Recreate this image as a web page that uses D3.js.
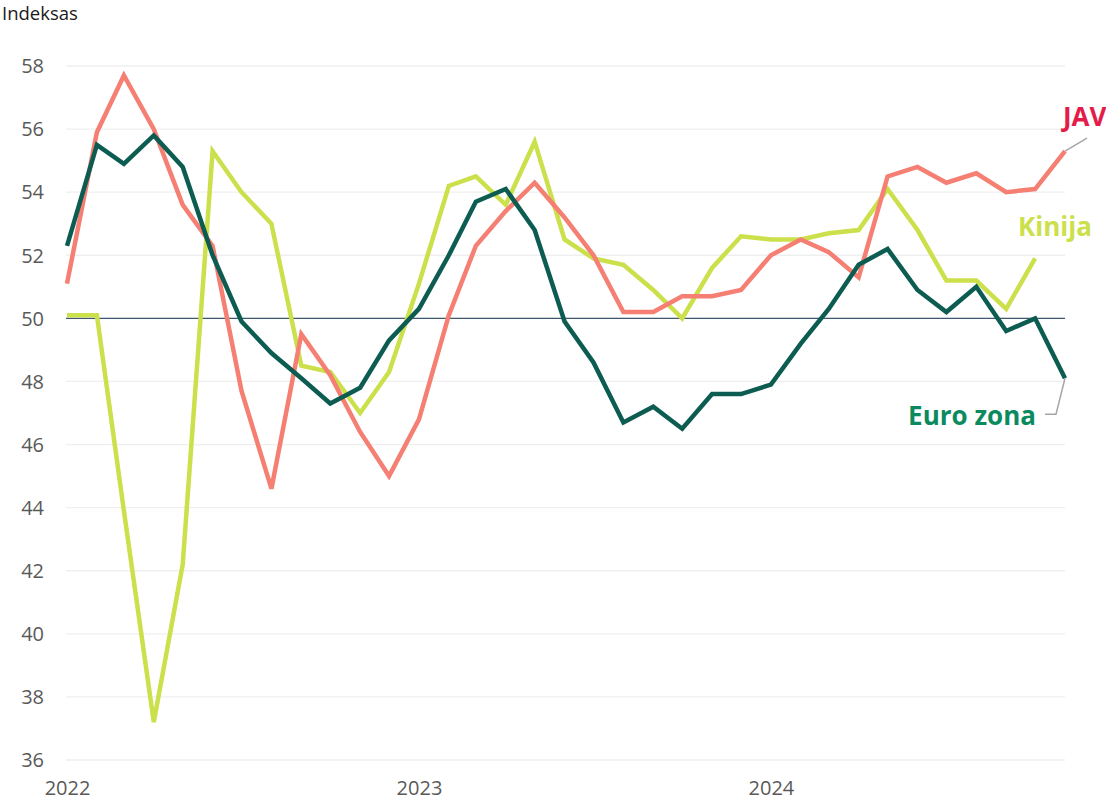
<!DOCTYPE html>
<html>
<head>
<meta charset="utf-8">
<script src="https://cdn.jsdelivr.net/npm/d3@7"></script>
<style>
  html, body { margin: 0; padding: 0; background: #fff; }
  svg { display: block; }
</style>
</head>
<body>
<svg id="chart" width="1106" height="808"></svg>
<script>
// Monthly data, Jan 2022 .. Nov 2024
const months = d3.range(35).map(i => new Date(2022, i, 1));
const jav = [51.1, 55.9, 57.7, 56.0, 53.6, 52.3, 47.7, 44.6, 49.5, 48.2, 46.4, 45.0,
             46.8, 50.1, 52.3, 53.4, 54.3, 53.2, 52.0, 50.2, 50.2, 50.7, 50.7, 50.9,
             52.0, 52.5, 52.1, 51.3, 54.5, 54.8, 54.3, 54.6, 54.0, 54.1, 55.3];
const euroZona = [52.3, 55.5, 54.9, 55.8, 54.8, 52.0, 49.9, 48.9, 48.1, 47.3, 47.8, 49.3,
                  50.3, 52.0, 53.7, 54.1, 52.8, 49.9, 48.6, 46.7, 47.2, 46.5, 47.6, 47.6,
                  47.9, 49.2, 50.3, 51.7, 52.2, 50.9, 50.2, 51.0, 49.6, 50.0, 48.1];
const kinija = [50.1, 50.1, 43.9, 37.2, 42.2, 55.3, 54.0, 53.0, 48.5, 48.3, 47.0, 48.3,
                51.1, 54.2, 54.5, 53.6, 55.6, 52.5, 51.9, 51.7, 50.9, 50.0, 51.6, 52.6,
                52.5, 52.5, 52.7, 52.8, 54.1, 52.8, 51.2, 51.2, 50.3, 51.9];
const yTicks = [36, 38, 40, 42, 44, 46, 48, 50, 52, 54, 56, 58];
const xTickLabels = ["2022", "2023", "2024"];
const xTickDates = [new Date(2022, 0, 1), new Date(2023, 0, 1), new Date(2024, 0, 1)];
const seriesNames = ["JAV", "Kinija", "Euro zona"];

const svg = d3.select("#chart");
const x = d3.scaleTime().domain([months[0], months[34]]).range([67, 1065]);
const y = d3.scaleLinear().domain([36, 58]).range([760, 66]);

const font = "'Open Sans', 'Noto Sans', sans-serif";

// gridlines
svg.append("g").selectAll("line").data(yTicks).join("line")
  .attr("x1", 66).attr("x2", 1065)
  .attr("y1", d => y(d)).attr("y2", d => y(d))
  .attr("stroke", "#efefef").attr("stroke-width", 1.3);

// y tick labels
const yAxis = d3.axisLeft(y).tickValues(yTicks).tickSize(0).tickPadding(0);
const gy = svg.append("g").attr("transform", "translate(44,0)").call(yAxis);
gy.select(".domain").remove();
gy.selectAll("text").attr("font-family", font).attr("font-size", 20)
  .attr("fill", "#595959").attr("text-anchor", "end").attr("dy", "0.34em");

// x tick labels
const xAxis = d3.axisBottom(x).tickValues(xTickDates).tickFormat((d, i) => xTickLabels[i]).tickSize(0).tickPadding(0);
const gx = svg.append("g").attr("transform", "translate(0,781)").call(xAxis);
gx.select(".domain").remove();
gx.selectAll("text").attr("font-family", font).attr("font-size", 20)
  .attr("fill", "#595959").attr("dy", "0.71em");

// axis title
svg.append("text").attr("x", 2).attr("y", 20).text("Indeksas")
  .attr("font-family", font).attr("font-size", 18.5).attr("fill", "#1a1a1a");

// 50 reference line
svg.append("line").attr("x1", 66).attr("x2", 1065)
  .attr("y1", y(50)).attr("y2", y(50))
  .attr("stroke", "#3d5870").attr("stroke-width", 1.3);

const line = d3.line().x((d, i) => x(months[i])).y(d => y(d));

function drawSeries(data, color) {
  svg.append("path").datum(data).attr("d", line)
    .attr("fill", "none").attr("stroke", color).attr("stroke-width", 4.5)
    .attr("stroke-linejoin", "miter").attr("stroke-linecap", "butt");
}
drawSeries(kinija, "#cbe04a");
drawSeries(jav, "#f47f72");
drawSeries(euroZona, "#0c5c52");

// leader lines
const lastJ = jav.length - 1, lastE = euroZona.length - 1;
svg.append("path")
  .attr("d", `M${x(months[lastJ])},${y(jav[lastJ])} L${x(months[lastJ]) + 22},${y(jav[lastJ]) - 13}`)
  .attr("stroke", "#a6a6a6").attr("stroke-width", 1.5).attr("fill", "none");
svg.append("path")
  .attr("d", `M${x(months[lastE])},${y(euroZona[lastE])} L${x(months[lastE]) - 9},${y(euroZona[lastE]) + 36} L${x(months[lastE]) - 20},${y(euroZona[lastE]) + 36}`)
  .attr("stroke", "#a6a6a6").attr("stroke-width", 1.5).attr("fill", "none");

// labels
svg.append("text").attr("x", 1063).attr("y", 126).text(seriesNames[0])
  .attr("font-family", font).attr("font-weight", "bold").attr("font-size", 26).attr("fill", "#e31c4a");
svg.append("text").attr("x", 1018).attr("y", 236).text(seriesNames[1])
  .attr("font-family", font).attr("font-weight", "bold").attr("font-size", 26).attr("fill", "#cbe04a");
svg.append("text").attr("x", 1036).attr("y", 425).attr("text-anchor", "end").text(seriesNames[2])
  .attr("font-family", font).attr("font-weight", "bold").attr("font-size", 26).attr("fill", "#0b8a5f");
</script>
</body>
</html>
